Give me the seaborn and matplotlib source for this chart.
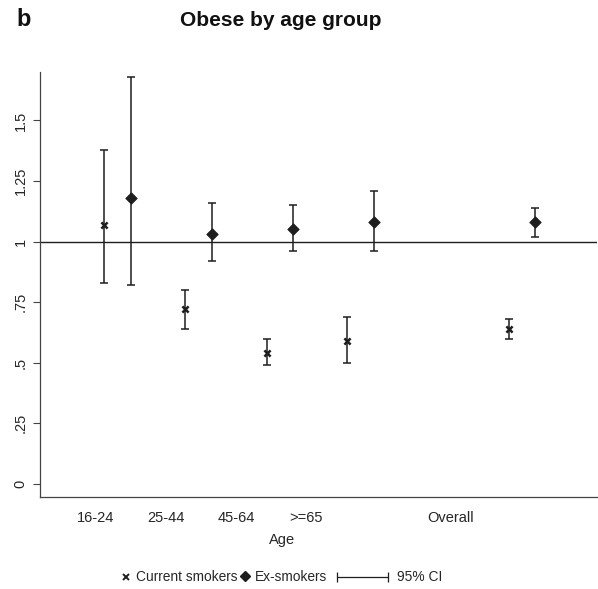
import numpy as np
import matplotlib
matplotlib.use("Agg")
import matplotlib.pyplot as plt
import pandas as pd
import seaborn as sns
from matplotlib.lines import Line2D

# 数据
groups = ['16-24', '25-44', '45-64', '>=65', 'Overall']
cur_est = [1.07, 0.72, 0.54, 0.59, 0.64]
cur_lo = [0.83, 0.64, 0.49, 0.50, 0.60]
cur_hi = [1.38, 0.80, 0.60, 0.69, 0.68]
ex_est = [1.18, 1.03, 1.05, 1.08, 1.08]
ex_lo = [0.82, 0.92, 0.96, 0.96, 1.02]
ex_hi = [1.68, 1.16, 1.15, 1.21, 1.14]

# 位置 (布局)
base = np.array([0, 1, 2.01, 3, 5])
offset = 0.33
label_pos = [-0.1, 0.77, 1.64, 2.49, 4.28]

cur = pd.DataFrame({'x': base, 'est': cur_est, 'lo': cur_lo, 'hi': cur_hi})
ex = pd.DataFrame({'x': base + offset, 'est': ex_est, 'lo': ex_lo, 'hi': ex_hi})

sns.set_style('ticks')
plt.rcParams['font.family'] = ['Liberation Sans', 'DejaVu Sans']
ink = '#1e1e1e'
W, H = 598, 589

fig = plt.figure(figsize=(5.98, 5.89), dpi=100)
ax = fig.add_axes([40 / W, 1 - 497 / H, 557 / W, 425 / H])

ax.axhline(1, color=ink, lw=1.0, zorder=1)
for d in (cur, ex):
    ax.errorbar(d['x'], d['est'], yerr=[d['est'] - d['lo'], d['hi'] - d['est']],
                fmt='none', ecolor=ink, elinewidth=1.1, capsize=3.2, capthick=1.1, zorder=2)
sns.scatterplot(data=cur, x='x', y='est', marker='x', s=20, color=ink,
                linewidth=1.8, legend=False, ax=ax, zorder=3)
sns.scatterplot(data=ex, x='x', y='est', marker='D', s=34, color=ink,
                edgecolor=ink, linewidth=0.6, legend=False, ax=ax, zorder=3)

ax.set_xlim(-0.79, 6.09)
ax.set_ylim(-0.054, 1.70)
ax.set_yticks([0, 0.25, 0.5, 0.75, 1, 1.25, 1.5])
ax.set_yticklabels(['0', '.25', '.5', '.75', '1', '1.25', '1.5'],
                   rotation=90, va='center', fontsize=10.5)
ax.set_xticks(label_pos)
ax.set_xticklabels(groups, fontsize=10.5)
ax.tick_params(axis='x', length=0, pad=10)
ax.tick_params(axis='y', length=5, width=0.8, color='#444444', pad=4)
ax.set_xlabel('Age', fontsize=10.5)
ax.xaxis.set_label_coords(0.434, -0.085)
ax.set_ylabel('')
sns.despine(ax=ax)
for s in ['left', 'bottom']:
    ax.spines[s].set_color('#444444')
    ax.spines[s].set_linewidth(0.9)

fig.text(281 / W, 1 - 20 / H, 'Obese by age group', ha='center', va='center',
         fontsize=15, fontweight='bold', color='#111111')
fig.text(24 / W, 1 - 19 / H, 'b', ha='center', va='center',
         fontsize=17, fontweight='bold', color='#111111')

# 图例 (手工排布)
ly = 1 - 577 / H
tf = fig.transFigure
lfs = 9.9
fig.add_artist(Line2D([126 / W], [ly], transform=tf, ls='none', marker='x',
                      color=ink, markersize=4, markeredgewidth=1.4))
fig.text(136 / W, ly, 'Current smokers', ha='left', va='center', fontsize=lfs)
fig.add_artist(Line2D([245 / W], [ly + 1 / H], transform=tf, ls='none', marker='D',
                      color=ink, markersize=5))
fig.text(255 / W, ly, 'Ex-smokers', ha='left', va='center', fontsize=lfs)
fig.add_artist(Line2D([337 / W, 388 / W], [ly, ly], transform=tf, ls='-', lw=0.9,
                      marker='|', markersize=7, markeredgewidth=0.9, color=ink))
fig.text(397 / W, ly, '95% CI', ha='left', va='center', fontsize=lfs)

fig.savefig('out.png', dpi=100)
